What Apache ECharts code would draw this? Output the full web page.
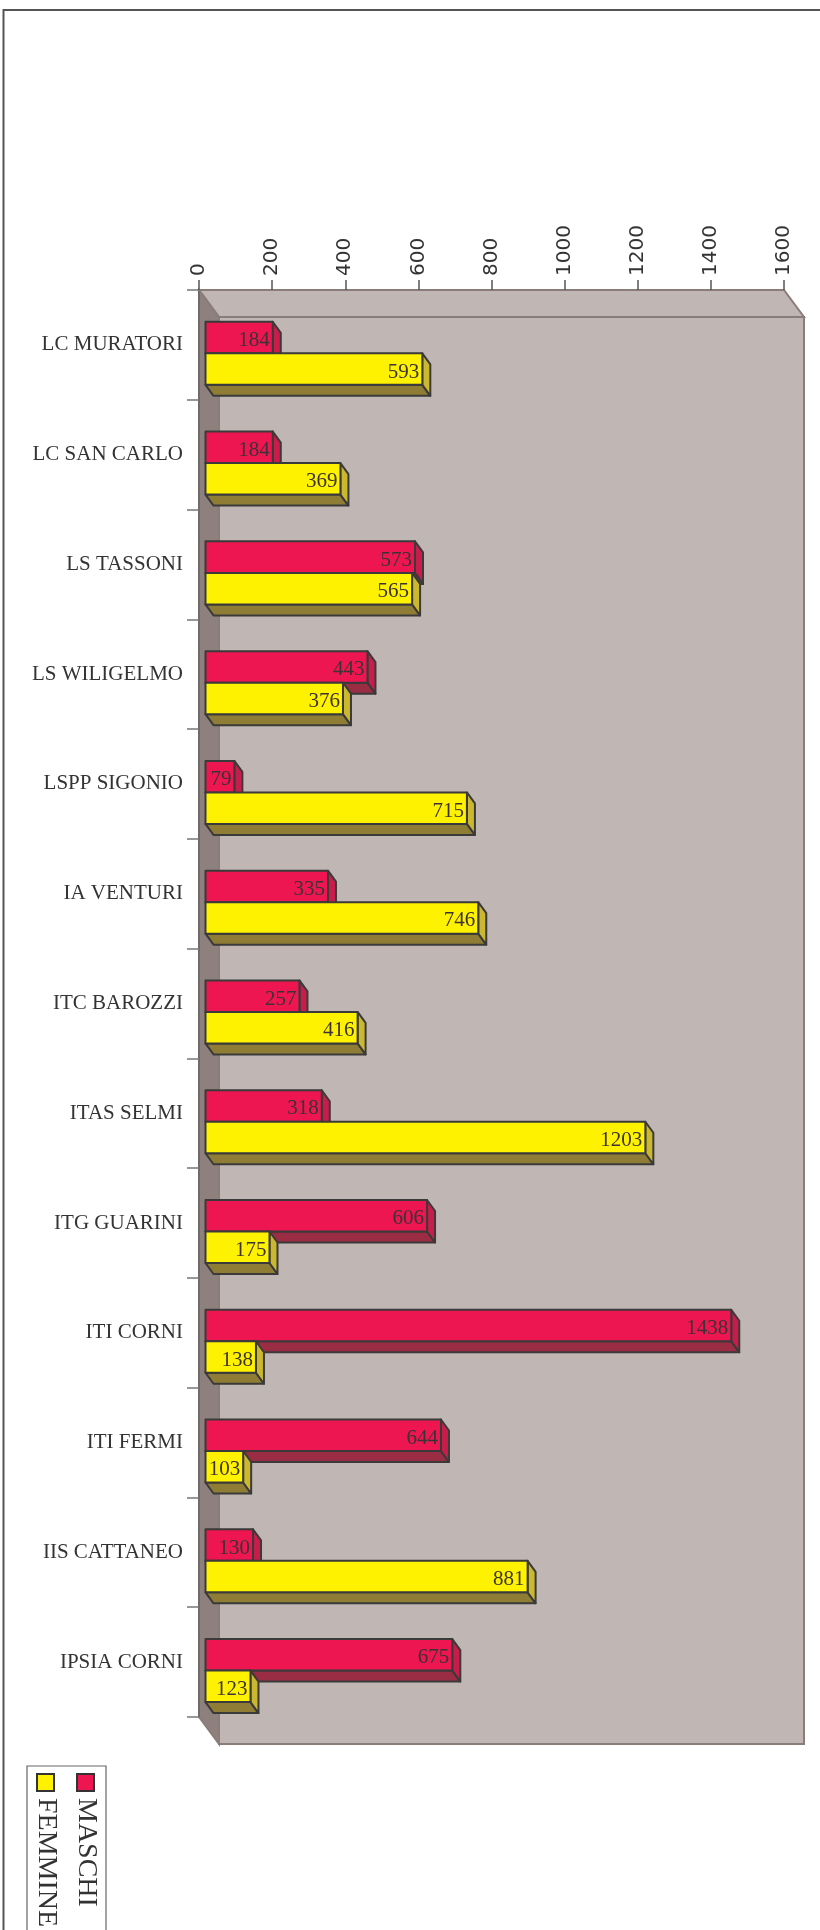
<!DOCTYPE html>
<html>
<head>
<meta charset="utf-8">
<script src="https://cdn.jsdelivr.net/npm/echarts@6/dist/echarts.min.js"></script>
<style>
  html, body { margin: 0; padding: 0; background: #fff; }
  #chart { width: 820px; height: 1930px; }
</style>
</head>
<body>
<div id="chart"></div>
<script>
// dati del grafico
const schools = [
  'LC MURATORI', 'LC SAN CARLO', 'LS TASSONI', 'LS WILIGELMO', 'LSPP SIGONIO',
  'IA VENTURI', 'ITC BAROZZI', 'ITAS SELMI', 'ITG GUARINI', 'ITI CORNI',
  'ITI FERMI', 'IIS CATTANEO', 'IPSIA CORNI'
]
const maschi = [184, 184, 573, 443, 79, 335, 257, 318, 606, 1438, 644, 130, 675]
const femmine = [593, 369, 565, 376, 715, 746, 416, 1203, 175, 138, 103, 881, 123]
const valueTicks = { min: 0, max: 1600, interval: 200 }

const serif = '"Liberation Serif", "DejaVu Serif", serif'
const sans = 'DejaVu Sans'

// colori: faccia frontale, lato destro, lato inferiore
const palette = {
  MASCHI: { front: '#ee1650', side: '#c81c4b', bottom: '#9a2d43' },
  FEMMINE: { front: '#fff200', side: '#cbb82f', bottom: '#8f7d35' }
}

// profondità "3D" delle barre e delle pareti
const BAR_DX = 8
const BAR_DY = 11
const WALL_DX = 20
const WALL_DY = 27

const chart = echarts.init(document.getElementById('chart'), null, { renderer: 'canvas' })

function renderWalls(params) {
  const c = params.coordSys
  const x = c.x, y = c.y, w = c.width, h = c.height
  const edge = { stroke: '#8a7d79', lineWidth: 2 }
  return {
    type: 'group',
    children: [
      // parete di fondo
      { type: 'rect', shape: { x: x + WALL_DX, y: y + WALL_DY, width: w, height: h },
        style: Object.assign({ fill: '#c0b6b3' }, edge) },
      // pavimento in alto
      { type: 'polygon', shape: { points: [[x, y], [x + w, y], [x + w + WALL_DX, y + WALL_DY], [x + WALL_DX, y + WALL_DY]] },
        style: Object.assign({ fill: '#c0b6b3' }, edge) },
      // parete sinistra
      { type: 'polygon', shape: { points: [[x, y], [x + WALL_DX, y + WALL_DY], [x + WALL_DX, y + h + WALL_DY], [x, y + h]] },
        style: Object.assign({ fill: '#8e807c' }, edge) }
    ]
  }
}

function makeBarRenderer(name, slot) {
  const col = palette[name]
  return function (params, api) {
    const val = api.value(0)
    const cat = api.value(1)
    const start = api.coord([0, cat])
    const end = api.coord([val, cat])
    const band = api.size([0, 1])[1]
    const barH = band * 0.287
    const x0 = start[0] + 6.5
    const x1 = end[0] + 6.5
    const y0 = start[1] - band * 0.21 + slot * barH
    const y1 = y0 + barH
    const line = { stroke: '#3a3a3a', lineWidth: 2, lineJoin: 'round' }
    return {
      type: 'group',
      children: [
        { type: 'polygon', shape: { points: [[x0, y1], [x1, y1], [x1 + BAR_DX, y1 + BAR_DY], [x0 + BAR_DX, y1 + BAR_DY]] },
          style: Object.assign({ fill: col.bottom }, line) },
        { type: 'polygon', shape: { points: [[x1, y0], [x1 + BAR_DX, y0 + BAR_DY], [x1 + BAR_DX, y1 + BAR_DY], [x1, y1]] },
          style: Object.assign({ fill: col.side }, line) },
        { type: 'rect', shape: { x: x0, y: y0, width: x1 - x0, height: barH },
          style: Object.assign({ fill: col.front }, line) },
        { type: 'text', x: x1 - 3, y: (y0 + y1) / 2 + 3,
          style: { text: String(val), fill: '#3b3336', font: '21px ' + serif, align: 'right', verticalAlign: 'middle' } }
      ]
    }
  }
}

const option = {
  backgroundColor: '#fff',
  animation: false,
  grid: { left: 199, top: 290, width: 585, height: 1427 },
  xAxis: {
    type: 'value',
    position: 'top',
    min: valueTicks.min,
    max: valueTicks.max,
    interval: valueTicks.interval,
    axisLine: { show: true, lineStyle: { color: '#8a7d79', width: 2 } },
    axisTick: { show: true, length: 10, lineStyle: { color: '#555', width: 1.5 } },
    axisLabel: {
      rotate: -90, margin: 14, color: '#333', fontFamily: sans, fontSize: 20,
      formatter: (v) => String(v)
    },
    splitLine: { show: false }
  },
  yAxis: {
    type: 'category',
    inverse: true,
    data: schools,
    axisLine: { show: true, lineStyle: { color: '#666', width: 1.5 } },
    axisTick: { show: true, length: 12, lineStyle: { color: '#777', width: 1.5 } },
    axisLabel: { margin: 16, color: '#333', fontFamily: serif, fontSize: 21 }
  },
  series: [
    {
      type: 'custom',
      name: 'pareti',
      z: -1,
      silent: true,
      data: [[0, 0]],
      encode: { x: 0, y: 1 },
      renderItem: renderWalls
    },
    {
      type: 'custom',
      name: 'MASCHI',
      z: 3,
      data: maschi.map((v, i) => [v, i]),
      encode: { x: 0, y: 1 },
      renderItem: makeBarRenderer('MASCHI', 0)
    },
    {
      type: 'custom',
      name: 'FEMMINE',
      z: 4,
      data: femmine.map((v, i) => [v, i]),
      encode: { x: 0, y: 1 },
      renderItem: makeBarRenderer('FEMMINE', 1)
    }
  ],
  graphic: [
    // cornice esterna
    { type: 'rect', shape: { x: 3.5, y: 10, width: 900, height: 2000 }, silent: true,
      style: { fill: 'none', stroke: '#555', lineWidth: 2 } },
    // legenda ruotata
    { type: 'rect', shape: { x: 27, y: 1766, width: 79, height: 220 }, silent: true,
      style: { fill: '#fff', stroke: '#666', lineWidth: 1.2 } },
    { type: 'rect', shape: { x: 77, y: 1774, width: 17, height: 17 },
      style: { fill: palette.MASCHI.front, stroke: '#333', lineWidth: 2 } },
    { type: 'rect', shape: { x: 37, y: 1774, width: 17, height: 17 },
      style: { fill: palette.FEMMINE.front, stroke: '#333', lineWidth: 2 } },
    { type: 'text', x: 86, y: 1798, rotation: -Math.PI / 2,
      style: { text: 'MASCHI', fill: '#333', font: '28px ' + serif, align: 'left', verticalAlign: 'middle' } },
    { type: 'text', x: 46, y: 1798, rotation: -Math.PI / 2,
      style: { text: 'FEMMINE', fill: '#333', font: '28px ' + serif, align: 'left', verticalAlign: 'middle' } }
  ]
}

chart.setOption(option)
</script>
</body>
</html>
